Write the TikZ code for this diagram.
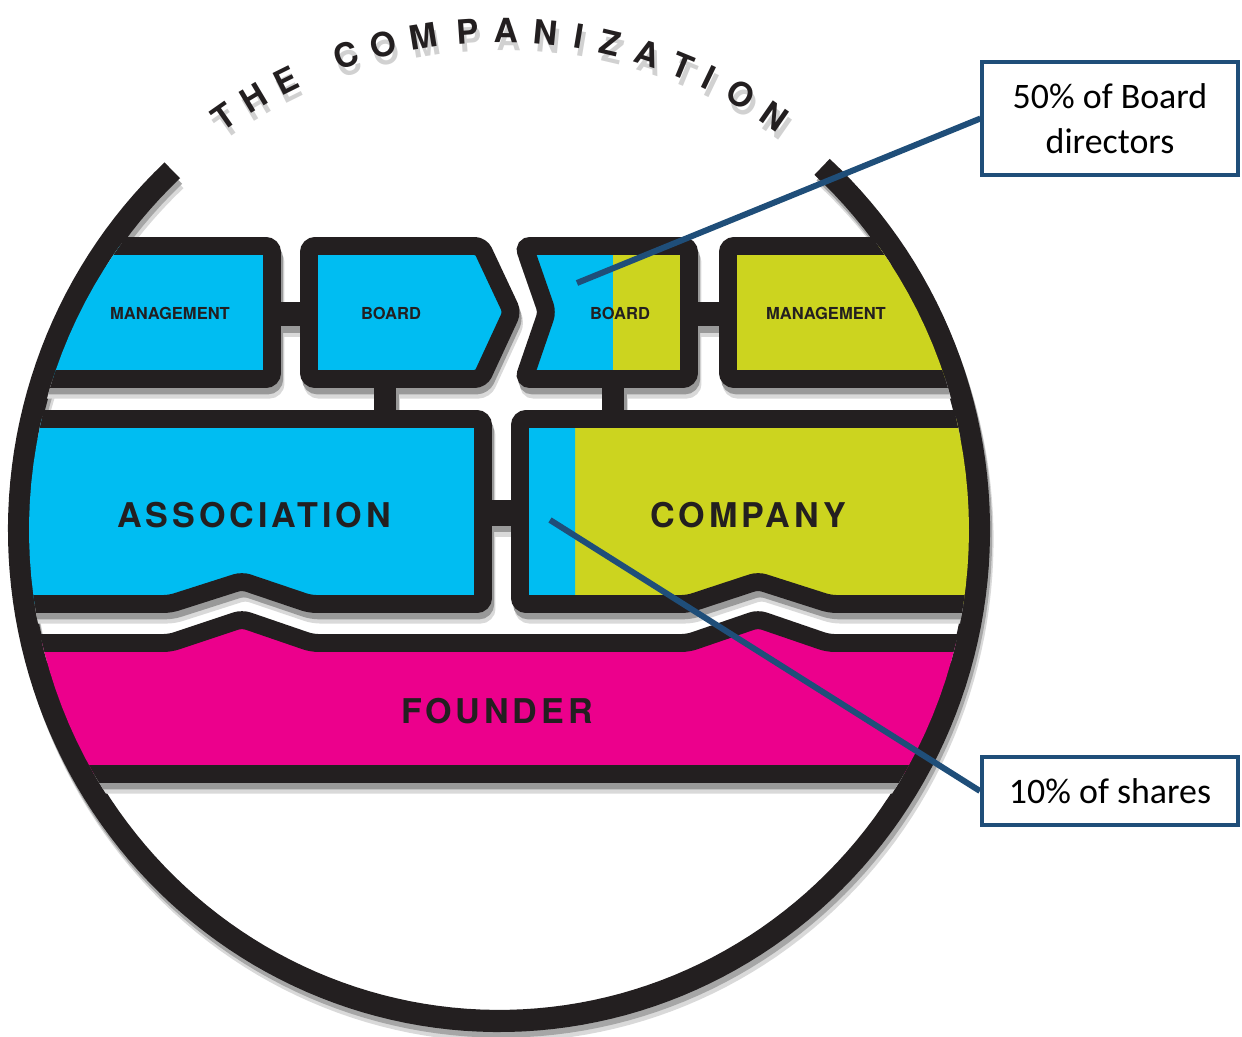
\documentclass[tikz,border=0pt]{standalone}
\usepackage{fontspec}
\usepackage{tikz}
\setmainfont{Carlito}
\newfontfamily\capsfont{TeX Gyre Heros}
\newfontfamily\widecaps[LetterSpace=11.5]{TeX Gyre Heros}
\definecolor{ink}{HTML}{231F20}
\definecolor{cyanfill}{HTML}{00BDF2}
\definecolor{limefill}{HTML}{CCD41F}
\definecolor{rosefill}{HTML}{EC008C}
\definecolor{navy}{HTML}{1F4E79}

\tikzset{
  mgApath/.style={insert path={(-20,246) -- (272,246) -- (272,379) -- (-20,379) -- cycle}},
  bdApath/.style={insert path={(309,246) -- (481,246) -- (512,312) -- (481,379) -- (309,379) -- cycle}},
  bdBpath/.style={insert path={(524,246) -- (689,246) -- (689,379) -- (524,379) -- (547,312) -- cycle}},
  mgBpath/.style={insert path={(728,246) -- (1020,246) -- (1020,379) -- (728,379) -- cycle}},
  asspath/.style={insert path={(-20,419) -- (483,419) -- (483,604) -- (310,604) -- (242,581) -- (170,604) -- (-20,604) -- cycle}},
  compath/.style={insert path={(520,419) -- (1020,419) -- (1020,604) -- (830,604) -- (758,581) -- (688,604) -- (520,604) -- cycle}},
  fndpath/.style={insert path={(-20,643) -- (170,643) -- (242,619) -- (312,643) -- (688,643) -- (758,619) -- (828,643) -- (1020,643) -- (1020,774) -- (-20,774) -- cycle}}
}

\begin{document}
\begin{tikzpicture}[x=0.01cm, y=-0.01cm,
  blk/.style={draw=ink, line width=5.1pt, rounded corners=1.8pt},
  shd/.style={draw=#1, line width=5.1pt, rounded corners=1.8pt},
  bar/.style={draw=ink, line width=#1},
  rim/.style={draw=ink, line width=6.3pt},
  tag/.style={font=\capsfont\bfseries\fontsize{4.7}{5}\selectfont, text=ink, inner sep=0pt},
  biglbl/.style={font=\widecaps\bfseries\fontsize{9.7}{11}\selectfont, text=ink, inner sep=0pt},
  ttl/.style={font=\capsfont\bfseries\fontsize{9.5}{11}\selectfont, inner sep=0pt},
  note/.style={draw=navy, line width=1.14pt, fill=white, inner sep=0pt, align=center, font=\fontsize{10.2}{12.7}\selectfont},
  lead/.style={draw=navy, line width=1.7pt}]

\useasboundingbox (0,0) rectangle (1242,1037);

\coordinate (mgAe) at (272,314);
\coordinate (bdAw) at (309,314);
\coordinate (bdBe) at (689,314);
\coordinate (mgBw) at (728,314);
\coordinate (bdAs) at (385,379);
\coordinate (asN) at (385,419);
\coordinate (bdBs) at (613,379);
\coordinate (coN) at (613,419);
\coordinate (asE) at (483,513);
\coordinate (coW) at (520,513);

\draw[rim, black!15, transform canvas={xshift=1pt, yshift=-2.8pt}] plot[domain=132.9:407.7, samples=160] ({499+480*cos(\x)},{530-491*sin(\x)});
\draw[rim, black!35, transform canvas={xshift=.6pt, yshift=-1.6pt}] plot[domain=132.9:407.7, samples=160] ({499+480*cos(\x)},{530-491*sin(\x)});
\draw[rim] plot[domain=132.9:407.7, samples=160] ({499+480*cos(\x)},{530-491*sin(\x)});

\begin{scope}
\clip plot[domain=0:360, samples=160] ({499+470*cos(\x)},{530-481*sin(\x)}) -- cycle;
\foreach \sx/\sy/\col in {1/-3/black!15, .6/-1.8/black!40}{
  \begin{scope}[transform canvas={xshift=\sx pt, yshift=\sy pt}]
  \foreach \p in {mgApath, bdApath, bdBpath, mgBpath, asspath, compath, fndpath}
    \draw[shd=\col, \p];
  \draw[bar=7pt, \col] (mgAe) -- (bdAw);
  \draw[bar=7pt, \col] (bdBe) -- (mgBw);
  \draw[bar=6.5pt, \col] (bdAs) -- (asN);
  \draw[bar=6.5pt, \col] (bdBs) -- (coN);
  \draw[bar=7.4pt, \col] (asE) -- (coW);
  \end{scope}
}
\draw[blk, fill=cyanfill, mgApath];
\draw[blk, fill=cyanfill, bdApath];
\draw[blk, fill=cyanfill, path picture={\fill[limefill] (613,200) rectangle (720,420);}, bdBpath];
\draw[blk, fill=limefill, mgBpath];
\draw[blk, fill=cyanfill, asspath];
\draw[blk, fill=limefill, path picture={\fill[cyanfill] (500,400) rectangle (575,620);}, compath];
\draw[blk, fill=rosefill, fndpath];
\draw[bar=7pt] (mgAe) -- (bdAw);
\draw[bar=7pt] (bdBe) -- (mgBw);
\draw[bar=6.5pt] (bdAs) -- (asN);
\draw[bar=6.5pt] (bdBs) -- (coN);
\draw[bar=7.4pt] (asE) -- (coW);
\end{scope}

\node[tag] (mgmtL) at (170,313) {MANAGEMENT};
\node[tag] (boardL) at (391,313) {BOARD};
\node[tag] (boardR) at (620,313) {BOARD};
\node[tag] (mgmtR) at (826,313) {MANAGEMENT};
\node[biglbl] (assoc) at (254,515) {ASSOCIATION};
\node[biglbl] (comp) at (748,515) {COMPANY};
\node[biglbl] (fndr) at (497,711) {FOUNDER};

\foreach \ch/\ang [count=\i] in {T/125.0,H/120.8,E/116.4,C/108.7,O/104.0,M/99.2,P/93.9,A/89.3,N/84.5,I/80.5,Z/76.8,A/72.1,T/67.7,I/64.3,O/59.9,N/55.2}{
  \node[ttl, text=black!18, rotate=\ang-90] (tsh\i) at ({503+481*cos(\ang)},{519-481*sin(\ang)}) {\ch};
  \node[ttl, text=ink, rotate=\ang-90] (ttl\i) at ({500+481*cos(\ang)},{511-481*sin(\ang)}) {\ch};
}

\node[note, minimum width=2.55cm, minimum height=1.13cm] (boardpct) at (1110,118.5) {50\% of Board\\directors};
\node[note, minimum width=2.56cm, minimum height=0.68cm] (sharepct) at (1110,791) {10\% of shares};
\coordinate (lnA) at (577,283);
\coordinate (lnB) at (550,520);
\draw[lead] (lnA) -- (boardpct.west);
\draw[lead] (lnB) -- (sharepct.west);

\end{tikzpicture}
\end{document}
